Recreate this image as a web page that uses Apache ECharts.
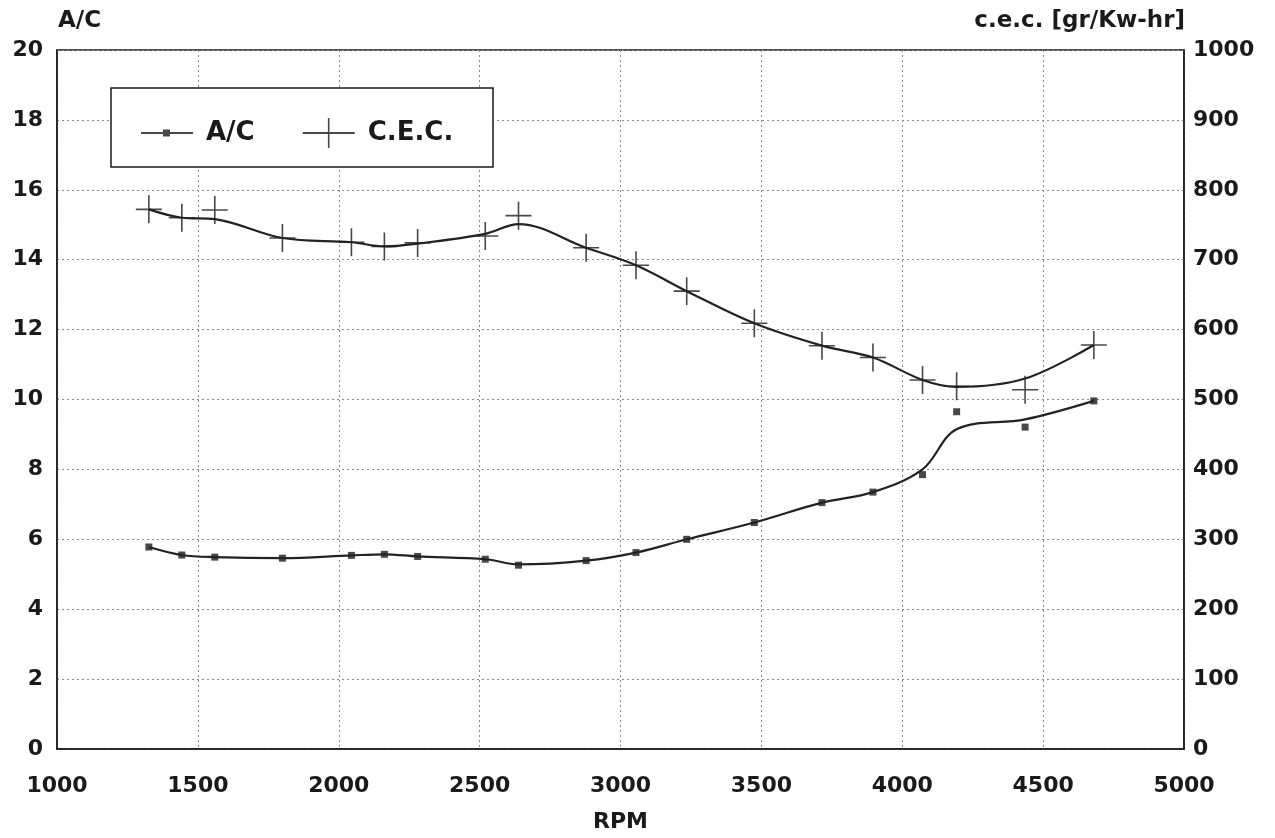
<!DOCTYPE html>
<html>
<head>
<meta charset="utf-8">
<script src="https://cdn.jsdelivr.net/npm/echarts@6/dist/echarts.min.js"></script>
<style>
html, body { margin: 0; padding: 0; background: #fff; }
#main { width: 1275px; height: 838px; }
</style>
</head>
<body>
<div id="main"></div>
<script>
var myChart = echarts.init(document.getElementById('main'));

// RPM where the points were measured
let rpm = [1326, 1443, 1560, 1800, 2045, 2162, 2280, 2520, 2638, 2878, 3055, 3235, 3475, 3715, 3896, 4072, 4193, 4436, 4680];
// A/C measured points and the smoothed fit drawn through them
let acPts = [5.78, 5.55, 5.49, 5.46, 5.54, 5.57, 5.51, 5.43, 5.26, 5.39, 5.62, 6.00, 6.48, 7.05, 7.35, 7.85, 9.65, 9.21, 9.96];
let acFit = [5.78, 5.55, 5.49, 5.46, 5.54, 5.57, 5.51, 5.43, 5.28, 5.39, 5.62, 6.00, 6.48, 7.05, 7.35, 8.00, 9.15, 9.43, 9.96];
// c.e.c. measured points and fit
let cecPts = [772, 760, 771, 731, 725, 719, 724, 734, 763, 717, 692, 655, 609, 577, 560, 528, 519, 514, 578];
let cecFit = [772, 760, 758, 731, 725, 719, 723, 737, 751, 717, 692, 655, 609, 577, 560, 528, 518, 530, 578];

let pair = (xs, ys) => xs.map((x, i) => [x, ys[i]]);

const ink = '#1a1a1a';
const fontFam = '"DejaVu Sans", "Liberation Sans", sans-serif';
const crossPath = 'path://M0,13.2L26,13.2L26,14.8L0,14.8Z M12.2,0L13.8,0L13.8,28L12.2,28Z';
const legendAC = 'path://M0,14L52,14L52,16L0,16Z M22,11.5L29,11.5L29,18.5L22,18.5Z';
const legendCEC = 'path://M0,14L52,14L52,16L0,16Z M25.2,0L26.8,0L26.8,30L25.2,30Z';

let gridLine = {
	show: true,
	lineStyle: { color: '#8a8a8a', type: [2, 3], width: 1 }
};
let labelStyle = {
	color: ink,
	fontFamily: fontFam,
	fontWeight: 'bold',
	fontSize: 22,
	formatter: v => String(v)
};

option = {
	backgroundColor: '#fff',
	animation: false,
	grid: {
		left: 57,
		right: 91,
		top: 50,
		bottom: 85,
		show: true,
		borderColor: ink,
		borderWidth: 1.5,
		backgroundColor: 'transparent'
	},
	graphic: [{
		type: 'rect',
		shape: { x: 111, y: 88, width: 382, height: 79 },
		style: { fill: '#fff', stroke: ink, lineWidth: 1.5 },
		z: 100
	}, {
		type: 'text',
		left: 58,
		top: 10,
		style: { text: 'A/C', fill: ink, font: 'bold 23px ' + fontFam }
	}, {
		type: 'text',
		right: 90,
		top: 10,
		style: { text: 'c.e.c. [gr/Kw-hr]', fill: ink, font: 'bold 23px ' + fontFam, textAlign: 'right' }
	}],
	legend: {
		left: 136,
		top: 113,
		z: 101,
		itemWidth: 52,
		itemHeight: 30,
		itemGap: 48,
		textStyle: { color: ink, fontFamily: fontFam, fontWeight: 'bold', fontSize: 26, padding: [0, 0, 0, 8] },
		data: [
			{ name: 'A/C', icon: legendAC },
			{ name: 'C.E.C.', icon: legendCEC }
		]
	},
	xAxis: {
		type: 'value',
		min: 1000,
		max: 5000,
		interval: 500,
		name: 'RPM',
		nameLocation: 'middle',
		nameGap: 62,
		nameTextStyle: { color: ink, fontFamily: fontFam, fontWeight: 'bold', fontSize: 22 },
		axisLine: { show: true, lineStyle: { color: ink, width: 1.5 } },
		axisTick: { show: false },
		axisLabel: Object.assign({ margin: 26 }, labelStyle),
		splitLine: gridLine
	},
	yAxis: [{
		type: 'value',
		min: 0,
		max: 20,
		interval: 2,
		position: 'left',
		axisLine: { show: true, lineStyle: { color: ink, width: 1.5 } },
		axisTick: { show: false },
		axisLabel: Object.assign({ margin: 14 }, labelStyle),
		splitLine: gridLine
	}, {
		type: 'value',
		min: 0,
		max: 1000,
		interval: 100,
		position: 'right',
		axisLine: { show: true, lineStyle: { color: ink, width: 1.5 } },
		axisTick: { show: false },
		axisLabel: Object.assign({ margin: 9 }, labelStyle),
		splitLine: { show: false }
	}],
	series: [{
		name: 'A/C fit',
		type: 'line',
		yAxisIndex: 0,
		smooth: 0.35,
		showSymbol: false,
		lineStyle: { color: '#222', width: 2.2 },
		data: pair(rpm, acFit)
	}, {
		name: 'A/C',
		type: 'scatter',
		yAxisIndex: 0,
		symbol: 'rect',
		symbolSize: 7,
		itemStyle: { color: ink },
		data: pair(rpm, acPts)
	}, {
		name: 'C.E.C. fit',
		type: 'line',
		yAxisIndex: 1,
		smooth: 0.35,
		showSymbol: false,
		lineStyle: { color: '#222', width: 2.2 },
		data: pair(rpm, cecFit)
	}, {
		name: 'C.E.C.',
		type: 'scatter',
		yAxisIndex: 1,
		symbol: crossPath,
		symbolSize: [26, 28],
		itemStyle: { color: ink },
		data: pair(rpm, cecPts)
	}]
};
myChart.setOption(option);
</script>
</body>
</html>
